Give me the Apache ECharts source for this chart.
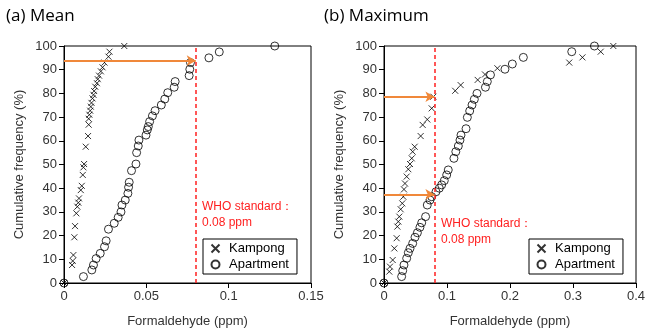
<!DOCTYPE html>
<html><head><meta charset="utf-8">
<script src="https://cdn.jsdelivr.net/npm/echarts@6/dist/echarts.min.js"></script>
<style>html,body{margin:0;padding:0;background:#fff}#c{width:654px;height:336px}</style>
</head><body><div id="c"></div>
<script>
// (a) Mean
const meanKampong = [[0,0],[0.0049,7.6],[0.0053,9.3],[0.0057,11.8],[0.0063,19.3],[0.0067,24],[0.0075,29.4],[0.0081,32.2],[0.0087,33.9],[0.0091,35.7],[0.0102,39.2],[0.0108,41],[0.0114,45.6],[0.0118,48.8],[0.0122,50.2],[0.0132,57.5],[0.0146,62],[0.015,66.8],[0.015,69.3],[0.0154,71],[0.0159,72.7],[0.0163,74.4],[0.0167,76],[0.0173,77.9],[0.0179,79.4],[0.0183,81],[0.019,82.8],[0.02,84.3],[0.0205,86],[0.0213,87.5],[0.0224,89.3],[0.0234,91],[0.0246,93],[0.027,95.5],[0.0276,97.6],[0.0366,100]];
const meanApartment = [[0,0],[0.0118,2.7],[0.0169,5.5],[0.0179,7.6],[0.0195,10.3],[0.022,12.5],[0.0246,15.3],[0.0256,17.8],[0.027,22.7],[0.0305,25.2],[0.0329,27.7],[0.0346,30],[0.0352,32.9],[0.0372,35],[0.0388,37.8],[0.0392,40.4],[0.0396,42.5],[0.041,47.4],[0.0437,50.2],[0.0441,55],[0.0451,57.8],[0.0455,60.3],[0.0498,62.4],[0.0506,64.6],[0.0512,66],[0.052,68.1],[0.0537,70.5],[0.0553,72.7],[0.0591,75.1],[0.0612,77.6],[0.063,80.3],[0.0669,82.6],[0.0675,85],[0.076,87.5],[0.0764,90.2],[0.0768,93],[0.088,95],[0.0943,97.5],[0.128,100]];
// (b) Maximum
const maxKampong = [[0,0],[0.0084,4.8],[0.0095,6.9],[0.0138,9.7],[0.0164,14.6],[0.0201,18.9],[0.0212,23.8],[0.0227,25.9],[0.0243,28],[0.0265,31.1],[0.029,33.6],[0.0307,36.4],[0.0317,39.5],[0.0333,42],[0.036,44.9],[0.0386,48],[0.0413,50.2],[0.044,52.6],[0.0455,55.4],[0.0487,57.5],[0.0582,62],[0.0614,66.7],[0.0687,69],[0.0757,73.7],[0.0783,78.6],[0.113,81.1],[0.1217,83.5],[0.1487,85.7],[0.1603,88],[0.18,90.6],[0.294,93],[0.315,95.2],[0.344,97.6],[0.364,100]];
const maxApartment = [[0,0],[0.028,2.7],[0.0297,5.2],[0.0317,7.6],[0.036,10.4],[0.0386,12.8],[0.0413,14.6],[0.0455,16.7],[0.0492,19.3],[0.053,21.2],[0.057,23.5],[0.0598,25.4],[0.066,28],[0.0687,32.9],[0.073,35],[0.0757,36.4],[0.0825,38.5],[0.0878,40],[0.0915,41.4],[0.0957,43.2],[0.0995,45.6],[0.102,47.7],[0.111,52.6],[0.114,55.4],[0.118,57.8],[0.1206,60.3],[0.1222,62.4],[0.1302,65.1],[0.1323,69.9],[0.136,72.6],[0.1397,75.1],[0.1434,77.5],[0.1476,80],[0.161,82.6],[0.164,85],[0.169,87.8],[0.192,90.2],[0.2037,92.4],[0.2212,95.2],[0.298,97.6],[0.334,100]];
const whoStandard = 0.08;
const meanArrowY = [93.8];
const maxArrowY = [78.6, 37.4];
const yTicks = {min:0, max:100, interval:10};
const xTicksMean = {min:0, max:0.15, interval:0.05};
const xTicksMax = {min:0, max:0.4, interval:0.1};
const titles = ['(a) Mean', '(b) Maximum'];
const seriesNames = ['Kampong', 'Apartment'];

const FONT = '"Liberation Sans", Arial, sans-serif';
const crossPath = 'path://M0,0L10,10M10,0L0,10';
const chart = echarts.init(document.getElementById('c'));

function xAxis(idx, t){
  return {type:'value', gridIndex:idx, min:t.min, max:t.max, interval:t.interval,
    name:'Formaldehyde (ppm)', nameLocation:'middle', nameGap:32,
    nameTextStyle:{fontFamily:FONT, fontSize:13, color:'#333'},
    axisLine:{show:true, onZero:false, lineStyle:{color:'#000', width:1}},
    axisTick:{show:true, length:5, inside:false, lineStyle:{color:'#000'}},
    axisLabel:{fontFamily:FONT, fontSize:13, color:'#333', margin:7},
    splitLine:{show:false}};
}
function yAxis(idx){
  return {type:'value', gridIndex:idx, min:yTicks.min, max:yTicks.max, interval:yTicks.interval,
    name:'Cumulative frequency (%)', nameLocation:'middle', nameGap:38,
    nameTextStyle:{fontFamily:FONT, fontSize:13, color:'#333'},
    axisLine:{show:true, onZero:false, lineStyle:{color:'#000', width:1}},
    axisTick:{show:true, length:5, inside:false, lineStyle:{color:'#000'}},
    axisLabel:{fontFamily:FONT, fontSize:13, color:'#333', margin:7},
    splitLine:{show:false}};
}
function marks(arrows){
  const data = [{xAxis: whoStandard, symbol:'none', lineStyle:{color:'#ff2020', type:[4,3], width:1.5}}];
  arrows.forEach(y => data.push([
    {coord:[0,y], symbol:'none'},
    {coord:[whoStandard,y], symbol:'arrow', symbolSize:[8,9]}
  ]));
  return {silent:true, symbol:['none','none'], label:{show:false},
    lineStyle:{color:'#F0883A', width:2, type:'solid'}, data:data};
}
function kampong(idx, data, arrows){
  const s = {name:seriesNames[0], type:'scatter', xAxisIndex:idx, yAxisIndex:idx, data:data,
    symbol:crossPath, symbolSize:6,
    itemStyle:{color:'none', borderColor:'#000', borderWidth:1}, z:3};
  if (arrows) s.markLine = marks(arrows);
  return s;
}
function apartment(idx, data){
  return {name:seriesNames[1], type:'scatter', xAxisIndex:idx, yAxisIndex:idx, data:data,
    symbol:'circle', symbolSize:8,
    itemStyle:{color:'none', borderColor:'#000', borderWidth:1}, z:3};
}
function legend(left){
  return {orient:'vertical', left:left, top:239, data:seriesNames,
    borderColor:'#000', borderWidth:1, borderRadius:0, padding:[3,8,3,6], itemGap:3,
    itemWidth:17, itemHeight:8,
    textStyle:{fontFamily:FONT, fontSize:13, color:'#000'}};
}
function whoText(x, y){
  return {type:'text', left:x, top:y, style:{text:'WHO standard：\n0.08 ppm', fill:'#ff2020',
    font:'12px '+FONT, lineHeight:16}};
}

chart.setOption({
  animation:false,
  backgroundColor:'#fff',
  title:[
    {text:titles[0], left:1, top:3, textStyle:{fontFamily:'"Open Sans", sans-serif', fontSize:17, fontWeight:'normal', color:'#000'}},
    {text:titles[1], left:319, top:3, textStyle:{fontFamily:'"Open Sans", sans-serif', fontSize:17, fontWeight:'normal', color:'#000'}}
  ],
  grid:[
    {left:64, right:343, top:46, bottom:53, show:true, borderColor:'#000', borderWidth:1, backgroundColor:'transparent'},
    {left:384, right:18, top:46, bottom:53, show:true, borderColor:'#000', borderWidth:1, backgroundColor:'transparent'}
  ],
  xAxis:[xAxis(0, xTicksMean), xAxis(1, xTicksMax)],
  yAxis:[yAxis(0), yAxis(1)],
  legend:[legend(203), legend(529)],
  graphic:[whoText(202, 199), whoText(441, 216)],
  series:[
    kampong(0, meanKampong, meanArrowY),
    apartment(0, meanApartment),
    kampong(1, maxKampong, maxArrowY),
    apartment(1, maxApartment)
  ]
});
</script></body></html>
